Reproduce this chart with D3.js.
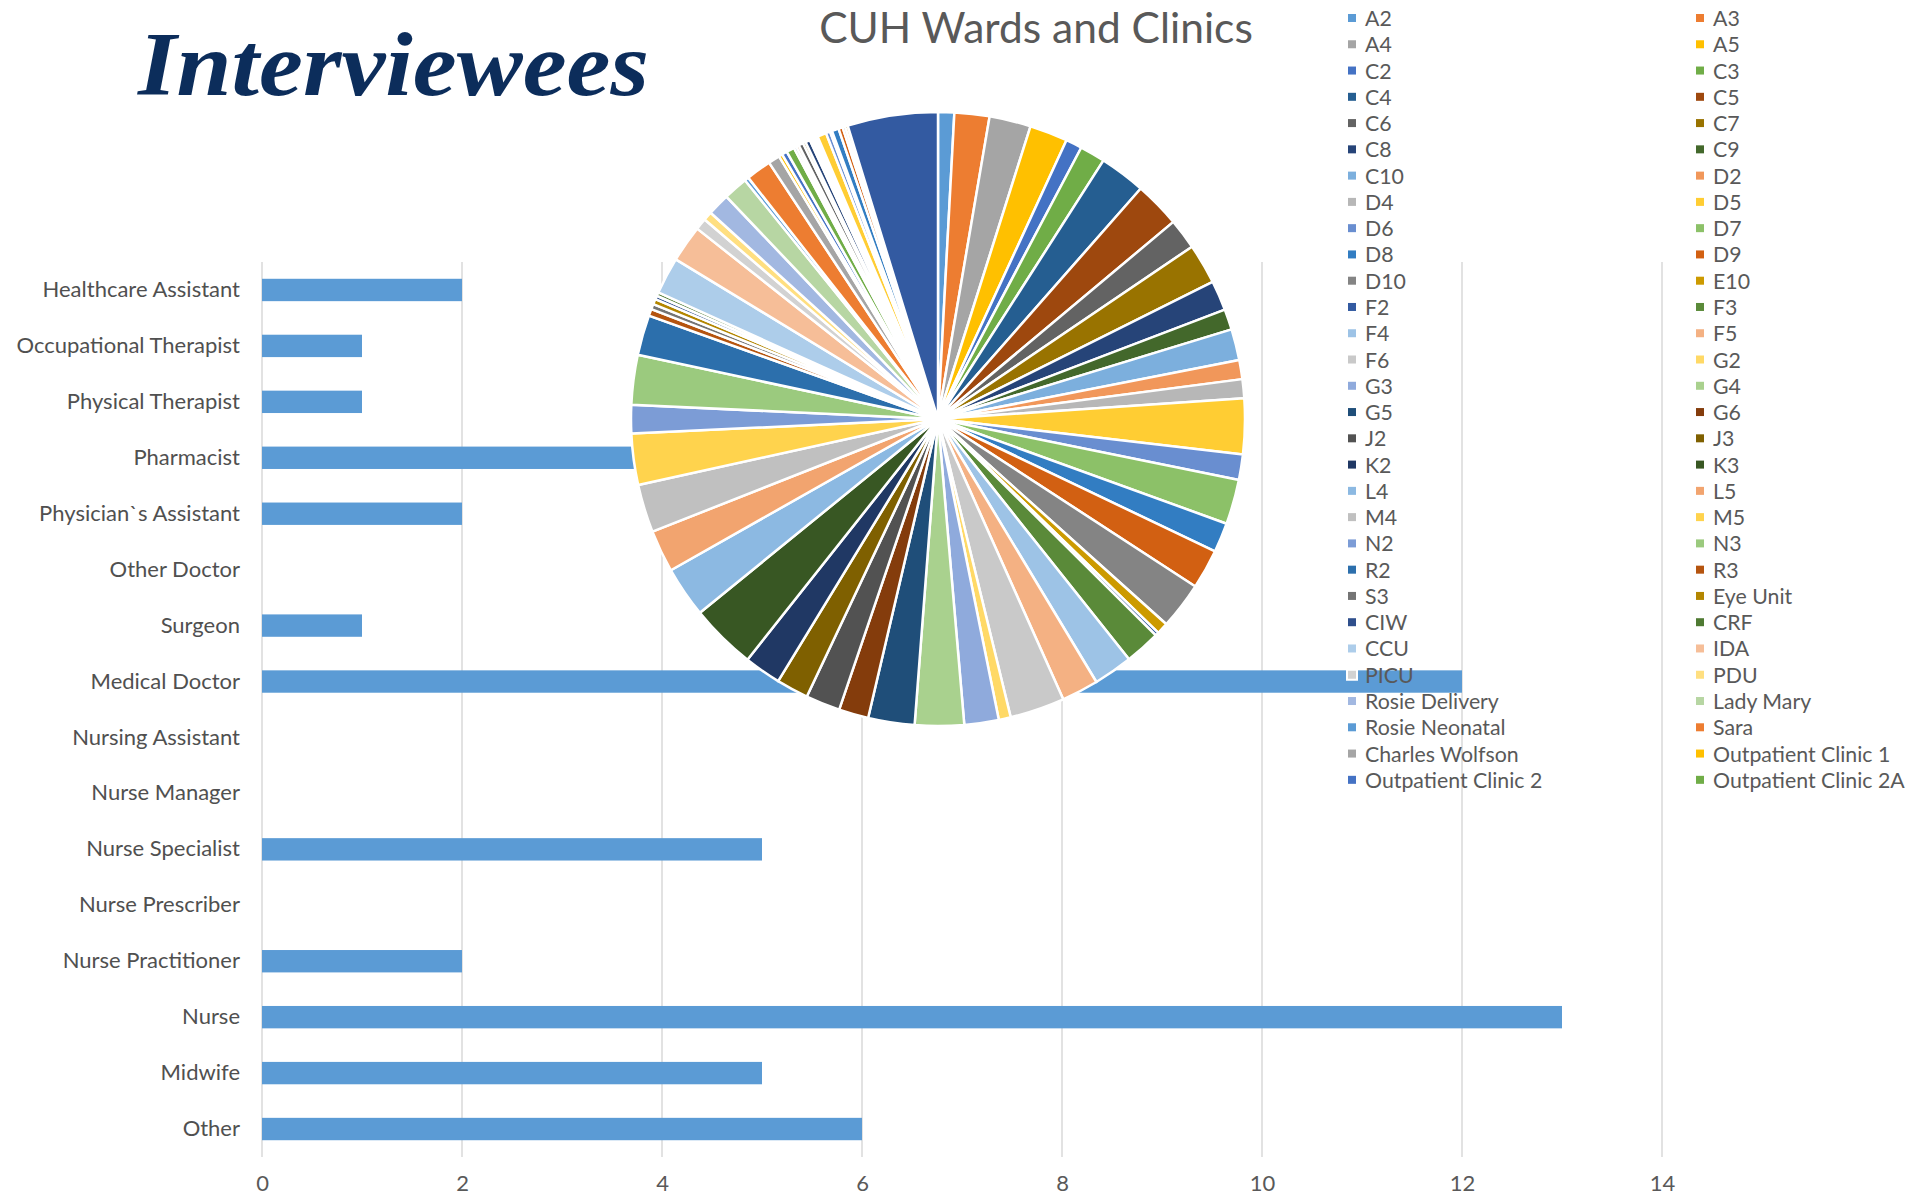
<!DOCTYPE html>
<html>
<head>
<meta charset="utf-8">
<script src="https://cdn.jsdelivr.net/npm/d3@7"></script>
<style>
  html, body { margin: 0; padding: 0; background: #ffffff; }
  svg { display: block; }
</style>
</head>
<body>
<svg id="chart" width="1930" height="1200"></svg>
<script>
// Interviewees by role
const roles = [
  "Healthcare Assistant", "Occupational Therapist", "Physical Therapist", "Pharmacist",
  "Physician`s Assistant", "Other Doctor", "Surgeon", "Medical Doctor",
  "Nursing Assistant", "Nurse Manager", "Nurse Specialist", "Nurse Prescriber",
  "Nurse Practitioner", "Nurse", "Midwife", "Other"
];
const roleCounts = [2, 1, 1, 4, 2, 0, 1, 12, 0, 0, 5, 0, 2, 13, 5, 6];
const countTicks = [0, 2, 4, 6, 8, 10, 12, 14];

// Wards and clinics, share of the total (%)
const wardNames = [
  "A2", "A3", "A4", "A5", "C2", "C3", "C4", "C5", "C6", "C7",
  "C8", "C9", "C10", "D2", "D4", "D5", "D6", "D7", "D8", "D9",
  "D10", "E10", "F2", "F3", "F4", "F5", "F6", "G2", "G3", "G4",
  "G5", "G6", "J2", "J3", "K2", "K3", "L4", "L5", "M4", "M5",
  "N2", "N3", "R2", "R3", "S3", "Eye Unit", "CIW", "CRF", "CCU", "IDA",
  "PICU", "PDU", "Rosie Delivery", "Lady Mary", "Rosie Neonatal", "Sara",
  "Charles Wolfson", "Outpatient Clinic 1", "Outpatient Clinic 2", "Outpatient Clinic 2A"
];
const wardShares = [
  0.85, 1.84, 2.18, 2.00, 0.86, 1.33, 2.42, 2.42, 1.61, 2.11,
  1.58, 1.08, 1.64, 1.00, 1.00, 2.92, 1.33, 2.36, 1.56, 2.08,
  2.47, 0.61, 0.19, 1.86, 2.06, 1.94, 2.88, 0.63, 1.81, 2.58,
  2.44, 1.56, 1.81, 1.69, 1.94, 3.47, 2.67, 2.22, 2.53, 2.69,
  1.50, 2.61, 2.11, 0.36, 0.28, 0.28, 0.19, 0.19, 1.94, 1.94,
  0.61, 0.47, 1.17, 1.28, 0.22, 1.33, 0.61, 0.19, 0.28, 0.42
];
// further wards whose legend entries run past the legend box
const moreWardShares = [
  0.14, 0.14, 0.25, 0.14, 0.25, 0.11, 0.11, 0.11, 0.11,
  0.47, 0.22, 0.11, 0.36, 0.22, 0.14, 0.14, 4.75
];

// Office-style series colours (cycle of 54)
const seriesColors = [
  "#5B9BD5", "#ED7D31", "#A5A5A5", "#FFC000", "#4472C4", "#70AD47",
  "#255E91", "#9E480E", "#636363", "#997300", "#264478", "#43682B",
  "#7CAFDD", "#F1975A", "#B7B7B7", "#FFCD33", "#698ED0", "#8CC168",
  "#327DC2", "#D26012", "#848484", "#CC9A00", "#335AA1", "#5A8A39",
  "#9DC3E6", "#F4B183", "#C9C9C9", "#FFD966", "#8FAADC", "#A9D18E",
  "#1F4E79", "#843C0C", "#525252", "#7F6000", "#203864", "#385723",
  "#8CB9E2", "#F2A46F", "#C0C0C0", "#FFD34D", "#7C9CD6", "#9BCA7E",
  "#2C6FAC", "#B5540F", "#747474", "#B38600", "#2F4F8C", "#4F7A32",
  "#ADCDEA", "#F6BE98", "#D2D2D2", "#FFDF80", "#A2B8E1", "#B7D6A3"
];

const svg = d3.select("#chart");
const textFont = "Lato, 'Open Sans', sans-serif";
const textColor = "#595959";

// ---------- Bar chart: interviewees by role ----------
const x = d3.scaleLinear().domain([0, 14]).range([262, 1662]);
const y = d3.scaleBand().domain(roles).range([262, 1157])
  .paddingInner(0.6).paddingOuter(0.3);

const barLayer = svg.append("g");

barLayer.append("g")
  .selectAll("line")
  .data(countTicks)
  .join("line")
  .attr("x1", d => x(d)).attr("x2", d => x(d))
  .attr("y1", 262).attr("y2", 1157)
  .attr("stroke", "#D9D9D9")
  .attr("stroke-width", 1.5);

barLayer.append("g")
  .selectAll("rect")
  .data(roles.map((r, i) => ({ role: r, count: roleCounts[i] })))
  .join("rect")
  .attr("x", x(0))
  .attr("y", d => y(d.role))
  .attr("width", d => x(d.count) - x(0))
  .attr("height", y.bandwidth())
  .attr("fill", "#5B9BD5");

const xAxis = d3.axisBottom(x).tickValues(countTicks).tickSize(0).tickPadding(0);
barLayer.append("g")
  .attr("transform", "translate(0,1175)")
  .call(xAxis)
  .call(g => g.select(".domain").remove())
  .call(g => g.selectAll("text")
    .attr("fill", textColor)
    .attr("font-family", textFont)
    .attr("font-size", 22)
    .attr("dy", "0.71em"));

const yAxis = d3.axisLeft(y).tickSize(0).tickPadding(0);
barLayer.append("g")
  .attr("transform", "translate(240,0)")
  .call(yAxis)
  .call(g => g.select(".domain").remove())
  .call(g => g.selectAll("text")
    .attr("fill", "#505050")
    .attr("font-family", textFont)
    .attr("font-size", 22));

// ---------- Heading ----------
svg.append("text")
  .attr("x", 138).attr("y", 95)
  .attr("font-family", "'Liberation Serif', 'Times New Roman', serif")
  .attr("font-weight", "bold")
  .attr("font-style", "italic")
  .attr("font-size", 90)
  .attr("textLength", 511)
  .attr("lengthAdjust", "spacingAndGlyphs")
  .attr("fill", "#0C2D5B")
  .text("Interviewees");

// ---------- Pie chart: wards and clinics ----------
const allShares = wardShares.concat(moreWardShares);
const pie = d3.pie().sort(null).value(d => d)
  .startAngle(0).endAngle(2 * Math.PI);
const arc = d3.arc().innerRadius(0).outerRadius(307);

const pieLayer = svg.append("g").attr("transform", "translate(938,419)");
pieLayer.selectAll("path")
  .data(pie(allShares))
  .join("path")
  .attr("d", arc)
  .attr("fill", (d, i) => seriesColors[i % seriesColors.length])
  .attr("stroke", "#ffffff")
  .attr("stroke-width", 2.5)
  .attr("stroke-linejoin", "round");

svg.append("text")
  .attr("x", 1036).attr("y", 43)
  .attr("text-anchor", "middle")
  .attr("font-family", textFont)
  .attr("font-size", 42.5)
  .attr("fill", textColor)
  .text("CUH Wards and Clinics");

// legend: two columns, filled row by row
const legendCols = [1347, 1695];
const legendTop = 18;
const legendRow = 26.27;
const legend = svg.append("g")
  .selectAll("g")
  .data(wardNames)
  .join("g")
  .attr("transform", (d, i) =>
    `translate(${legendCols[i % 2]},${legendTop + Math.floor(i / 2) * legendRow})`);

legend.append("rect")
  .attr("x", 0).attr("y", -5)
  .attr("width", 10).attr("height", 10)
  .attr("fill", (d, i) => seriesColors[i % seriesColors.length])
  .attr("stroke", "#ffffff")
  .attr("stroke-width", 2);

legend.append("text")
  .attr("x", 18).attr("y", 0)
  .attr("dominant-baseline", "central")
  .attr("font-family", textFont)
  .attr("font-size", 21.3)
  .attr("fill", textColor)
  .text(d => d);
</script>
</body>
</html>
